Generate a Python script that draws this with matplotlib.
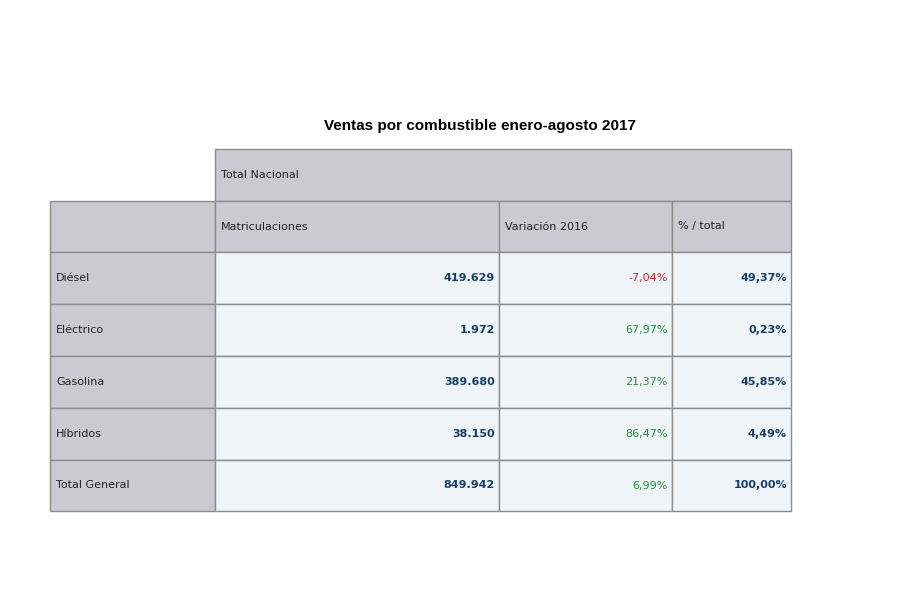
import matplotlib
matplotlib.use("Agg")
import matplotlib.pyplot as plt
from matplotlib.patches import Rectangle

title = "Ventas por combustible enero-agosto 2017"
group_header = "Total Nacional"
col_headers = ["Matriculaciones", "Variación 2016", "% / total"]
categories = ["Diésel", "Eléctrico", "Gasolina", "Híbridos", "Total General"]
matriculaciones = [419629, 1972, 389680, 38150, 849942]
variacion = [-7.04, 67.97, 21.37, 86.47, 6.99]
pct_total = [49.37, 0.23, 45.85, 4.49, 100.00]

def fmt_int(v):
    return f"{v:,}".replace(",", ".")

def fmt_pct(v):
    return f"{v:.2f}".replace(".", ",") + "%"

fig = plt.figure(figsize=(9, 6), dpi=100)
ax = fig.add_axes([0, 0, 1, 1])
ax.set_xlim(0, 900); ax.set_ylim(600, 0); ax.axis("off")

font = "DejaVu Sans"
xs = [50, 215, 499, 672, 791]
ys = [149, 201, 252, 304, 356, 408, 460, 511]
gray = "#cbcad3"; light = "#eef4f8"; edge = "#8c8c8c"
blue = "#163e66"; red = "#c0242c"; green = "#2a8c3c"; txt = "#222222"

def cell(x0, x1, y0, y1, fc):
    ax.add_patch(Rectangle((x0, y0), x1 - x0, y1 - y0, facecolor=fc, edgecolor=edge, lw=1))

ax.text(480, 126, title, ha="center", va="center", fontsize=11, fontweight="bold", family="Liberation Sans")

cell(xs[1], xs[4], ys[0], ys[1], gray)
ax.text(xs[1] + 6, (ys[0] + ys[1]) / 2, group_header, va="center", fontsize=8, color=txt, family=font)
cell(xs[0], xs[1], ys[1], ys[2], gray)
for j, h in enumerate(col_headers):
    cell(xs[j + 1], xs[j + 2], ys[1], ys[2], gray)
    ax.text(xs[j + 1] + 6, (ys[1] + ys[2]) / 2, h, va="center", fontsize=8, color=txt, family=font)

for i, cat in enumerate(categories):
    y0, y1 = ys[i + 2], ys[i + 3]
    ym = (y0 + y1) / 2
    cell(xs[0], xs[1], y0, y1, gray)
    ax.text(xs[0] + 6, ym, cat, va="center", fontsize=8, color=txt, family=font)
    for j in range(3):
        cell(xs[j + 1], xs[j + 2], y0, y1, light)
    ax.text(xs[2] - 4, ym, fmt_int(matriculaciones[i]), ha="right", va="center",
            fontsize=8, fontweight="bold", color=blue, family=font)
    ax.text(xs[3] - 4, ym, fmt_pct(variacion[i]), ha="right", va="center",
            fontsize=8, color=red if variacion[i] < 0 else green, family=font)
    ax.text(xs[4] - 4, ym, fmt_pct(pct_total[i]), ha="right", va="center",
            fontsize=8, fontweight="bold", color=blue, family=font)

fig.savefig("out.png", dpi=100)
